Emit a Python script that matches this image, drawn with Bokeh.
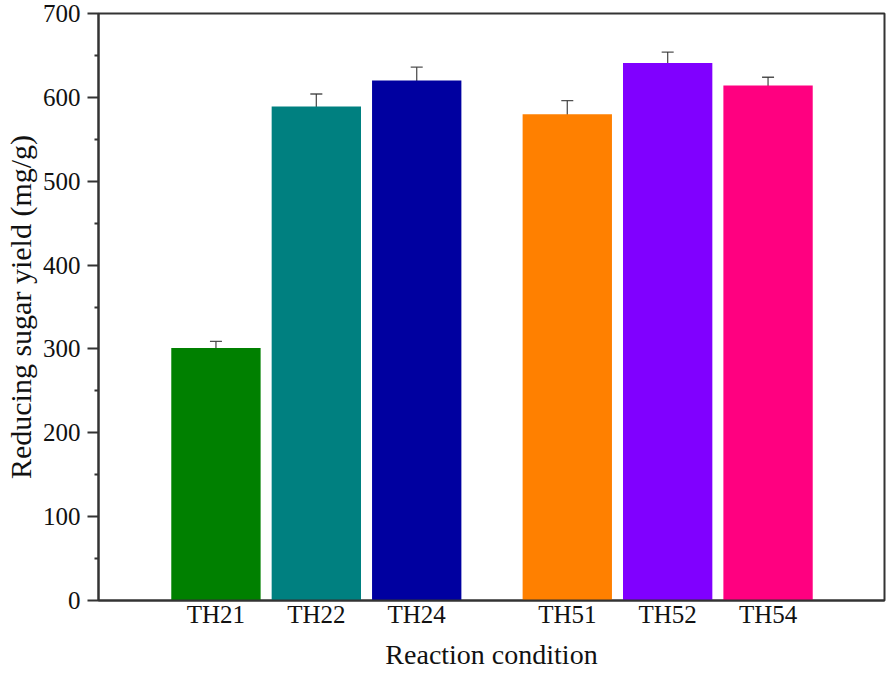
from bokeh.plotting import figure
from bokeh.models import ColumnDataSource, Range1d, FixedTicker, Whisker, TeeHead
from bokeh.embed import file_html
from bokeh.resources import INLINE

# ---- data ----
conditions = ["TH21", "TH22", "TH24", "TH51", "TH52", "TH54"]
groups = [0, 0, 0, 1, 1, 1]
yields = [301, 589, 620, 580, 641, 614]
errors = [8, 15, 16, 16, 13, 10]
colors = ["#008000", "#008080", "#0000A0", "#FF8000", "#8000FF", "#FF0080"]
y_ticks = [0, 100, 200, 300, 400, 500, 600, 700]

GROUP_GAP = 0.5
xs = [i + 1 + g * GROUP_GAP for i, g in enumerate(groups)]

src = ColumnDataSource(dict(
    x=xs, top=yields, color=colors,
    upper=[v + e for v, e in zip(yields, errors)],
    lower=[v - e for v, e in zip(yields, errors)],
))

FONT = "Liberation Serif"

p = figure(width=890, height=672, output_backend="svg", toolbar_location=None,
           x_range=Range1d(-0.17, 7.66), y_range=Range1d(0, 700),
           min_border_left=98, min_border_right=6, min_border_top=13, min_border_bottom=72)

p.vbar(x="x", top="top", width=0.89, bottom=0, fill_color="color", line_color=None, source=src)

w = Whisker(base="x", upper="upper", lower="lower", source=src,
            line_color="#333333", line_width=1.3, line_alpha=0.85,
            upper_head=TeeHead(size=12, line_color="#333333", line_width=1.3, line_alpha=0.85),
            lower_head=TeeHead(size=12, line_color="#333333", line_width=1.3, line_alpha=0.85))
p.add_layout(w)

p.xgrid.visible = False
p.ygrid.visible = False
p.outline_line_color = "#333333"
p.outline_line_width = 2
p.outline_line_alpha = 1

# x axis
xa = p.xaxis[0]
xa.ticker = FixedTicker(ticks=xs)
xa.major_label_overrides = {x: c for x, c in zip(xs, conditions)}
xa.major_tick_out = 0
xa.major_tick_in = 0
xa.minor_tick_out = 0
xa.minor_tick_in = 0
xa.axis_label = "Reaction condition"

# y axis
ya = p.yaxis[0]
ya.ticker = FixedTicker(ticks=y_ticks, minor_ticks=[v + 50 for v in y_ticks[:-1]])
ya.major_tick_out = 11
ya.major_tick_in = 0
ya.minor_tick_out = 4
ya.minor_tick_in = 0
ya.axis_label = "Reducing sugar yield (mg/g)"

for ax in (xa, ya):
    ax.axis_line_color = "#333333"
    ax.axis_line_width = 2
    ax.major_tick_line_color = "#333333"
    ax.major_tick_line_width = 2
    ax.minor_tick_line_color = "#333333"
    ax.minor_tick_line_width = 2
    ax.major_label_text_font = FONT
    ax.major_label_text_font_size = "25px"
    ax.major_label_text_color = "#111111"
    ax.axis_label_text_font = FONT
    ax.axis_label_text_font_style = "normal"
    ax.axis_label_text_color = "#111111"

xa.axis_label_text_font_size = "28px"
ya.axis_label_text_font_size = "30px"
xa.major_label_standoff = 0
xa.axis_label_standoff = 8
ya.major_label_standoff = 7
ya.axis_label_standoff = 3

open("out.html", "w").write(file_html(p, INLINE))
